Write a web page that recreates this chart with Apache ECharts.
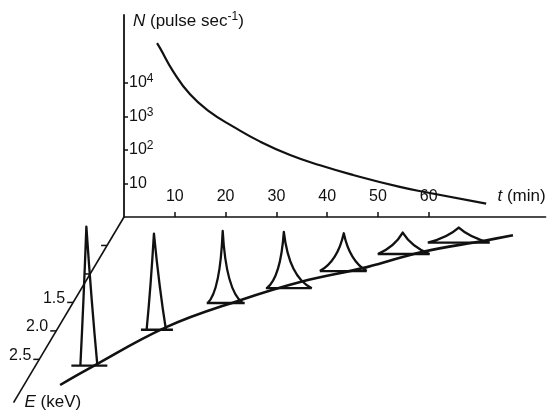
<!DOCTYPE html>
<html>
<head>
<meta charset="utf-8">
<title>Pulse rate and spectra</title>
<script src="https://cdn.jsdelivr.net/npm/echarts@6.0.0/dist/echarts.min.js"></script>
<style>
  html, body { margin: 0; padding: 0; background: #fff; }
  #chart { width: 549px; height: 413px; }
</style>
</head>
<body>
<div id="chart"></div>
<script>
  // decay of the pulse rate, upper panel
  const decayT = [6.5, 7.1, 9.7, 13.0, 16.9, 21.5, 26.8, 32.7, 38.6, 45.1, 54.3, 60.2, 71.3]
  const decayN = [155000, 110000, 22000, 4600, 1380, 500, 178, 71, 35, 18, 7.9, 5.2, 2.5]

  const tTicks = [10, 20, 30, 40, 50, 60]
  const nTicks = [10, 100, 1000, 10000]

  const eTicks = [0.5, 1.0, 1.5, 2.0, 2.5]
  const eTickLabels = ['', '', '1.5', '2.0', '2.5']
  const eAxisExtent = [0, 3.26]

  // where the peak sits in energy as time goes on
  const ridgeT = [7.1, 10.6, 21.3, 32.6, 42.3, 53.7, 62.9, 73.5, 78.7]
  const ridgeE = [2.95, 2.68, 1.93, 1.46, 1.14, 0.88, 0.61, 0.42, 0.32]

  // spectra: time (min), peak energy (keV), height (decades), foot / base half widths (min), tail shape
  const peakT = [10.0, 19.1, 29.5, 39.8, 49.6, 59.2, 68.9]
  const peakE = [2.61, 1.98, 1.51, 1.25, 0.95, 0.65, 0.45]
  const peakH = [4.15, 2.87, 2.15, 1.68, 1.13, 0.64, 0.45]
  const footL = [1.18, 1.44, 2.95, 3.35, 4.72, 4.92, 6.10]
  const footR = [2.17, 2.36, 3.94, 5.51, 4.53, 5.31, 6.10]
  const baseL = [2.95, 2.56, 3.15, 3.54, 4.72, 4.92, 6.10]
  const baseR = [4.13, 3.74, 4.33, 5.51, 4.53, 5.31, 6.10]
  const peakTail = [0.46, 0.44, 0.17, 0.19, 0.26, 0.33, 0.35]

  // oblique E direction: one keV moves left (in min) and down (in decades)
  const E_DT = -6.67
  const E_DY = -1.70
  const proj = (t, e, h) => [t + E_DT * e, E_DY * e + h]

  const FONT = 'Liberation Sans'
  const INK = '#111'

  const chart = echarts.init(document.getElementById('chart'))

  function renderPeak(params, api) {
    const t = api.value(0), e = api.value(1), h = api.value(2)
    const px = (dt, dh) => api.coord(proj(t + dt, e, dh))
    const apex = px(0, h)
    const under = px(0, 0)
    const fl = px(-api.value(3), 0), fr = px(api.value(4), 0)
    const bl = px(-api.value(5), 0), br = px(api.value(6), 0)
    const c = api.value(7)
    const ctrl = f => [
      under[0] + c * (f[0] - under[0] + apex[0] - under[0]),
      under[1] + c * (f[1] - under[1] + apex[1] - under[1])
    ]
    const cl = ctrl(fl), cr = ctrl(fr)
    const d = 'M' + fl + ' Q' + cl + ' ' + apex + ' Q' + cr + ' ' + fr +
      ' M' + bl + ' L' + br
    return {
      type: 'path',
      shape: { pathData: d },
      style: { fill: 'none', stroke: INK, lineWidth: 2.3, lineJoin: 'round' }
    }
  }

  function renderETick(params, api) {
    const p = api.coord(proj(0, api.value(0), 0))
    return {
      type: 'group',
      children: [{
        type: 'line',
        shape: { x1: p[0] - 6, y1: p[1], x2: p[0], y2: p[1] },
        style: { stroke: INK, lineWidth: 1.5 }
      }, {
        type: 'text',
        x: p[0] - 8,
        y: p[1] + 4,
        style: {
          text: eTickLabels[params.dataIndex],
          fontFamily: FONT, fontSize: 16, fill: INK,
          align: 'right', verticalAlign: 'bottom'
        }
      }]
    }
  }

  chart.setOption({
    animation: false,
    backgroundColor: '#fff',
    grid: [
      { left: 124, right: 3.4, top: 15, bottom: 196 },
      { left: 0, right: 0, top: 0, bottom: 0 }
    ],
    xAxis: [{
      gridIndex: 0,
      type: 'value',
      min: 0,
      max: 83,
      name: '{i|t} (min)',
      nameLocation: 'end',
      nameGap: 0,
      nameTextStyle: {
        color: INK, fontFamily: FONT, fontSize: 17,
        align: 'right', verticalAlign: 'bottom', padding: [0, 0, 12, 0],
        rich: { i: { fontStyle: 'italic', fontFamily: FONT, fontSize: 17, color: INK } }
      },
      splitLine: { show: false },
      axisLine: { onZero: false, lineStyle: { color: INK, width: 1.6 } },
      axisTick: { inside: true, length: 5, customValues: tTicks, lineStyle: { color: INK, width: 1.5 } },
      axisLabel: {
        inside: true, margin: 12, customValues: tTicks,
        color: INK, fontFamily: FONT, fontSize: 16
      }
    }, {
      gridIndex: 1,
      type: 'value',
      min: -24.41,
      max: 83.66,
      show: false
    }],
    yAxis: [{
      gridIndex: 0,
      type: 'log',
      logBase: 10,
      min: 1,
      max: 1.0713e6,
      name: '{i|N} (pulse sec{s|-1})',
      nameLocation: 'end',
      nameGap: -6,
      nameTextStyle: {
        color: INK, fontFamily: FONT, fontSize: 17, lineHeight: 20,
        align: 'left', verticalAlign: 'middle', padding: [0, 0, 0, 9],
        rich: {
          i: { fontStyle: 'italic', fontFamily: FONT, fontSize: 17, lineHeight: 20, color: INK },
          s: { fontFamily: FONT, fontSize: 12, lineHeight: 12, verticalAlign: 'top', color: INK }
        }
      },
      splitLine: { show: false },
      axisLine: { onZero: false, lineStyle: { color: INK, width: 1.8 } },
      axisTick: { inside: true, length: 4, customValues: nTicks, lineStyle: { color: INK, width: 1.5 } },
      axisLabel: {
        inside: true, margin: 5, customValues: nTicks,
        formatter: v => {
          const p = Math.round(Math.log10(v))
          return p === 1 ? '{b|10}' : '{b|10}{s|' + p + '}'
        },
        rich: {
          b: { fontFamily: FONT, fontSize: 16, lineHeight: 20, color: INK },
          s: { fontFamily: FONT, fontSize: 12, lineHeight: 12, verticalAlign: 'top', color: INK }
        }
      }
    }, {
      gridIndex: 1,
      type: 'value',
      min: -5.851,
      max: 6.478,
      show: false
    }],
    series: [{
      name: 'N',
      type: 'line',
      xAxisIndex: 0,
      yAxisIndex: 0,
      smooth: 0.5,
      symbol: 'none',
      lineStyle: { color: INK, width: 2.2 },
      data: decayT.map((t, i) => [t, decayN[i]])
    }, {
      name: 'E axis',
      type: 'line',
      xAxisIndex: 1,
      yAxisIndex: 1,
      symbol: 'none',
      lineStyle: { color: INK, width: 1.6 },
      data: eAxisExtent.map(e => proj(0, e, 0))
    }, {
      name: 'E ticks',
      type: 'custom',
      xAxisIndex: 1,
      yAxisIndex: 1,
      renderItem: renderETick,
      data: eTicks.map(e => [e, 0])
    }, {
      name: 'E name',
      type: 'scatter',
      xAxisIndex: 1,
      yAxisIndex: 1,
      symbolSize: 0,
      itemStyle: { opacity: 1, color: INK },
      label: {
        show: true,
        position: 'right',
        distance: 11,
        formatter: '{i|E} (keV)',
        color: INK, fontFamily: FONT, fontSize: 17,
        rich: { i: { fontStyle: 'italic', fontFamily: FONT, fontSize: 17, color: INK } }
      },
      data: [proj(0, eAxisExtent[1], 0)]
    }, {
      name: 'peak energy',
      type: 'line',
      xAxisIndex: 1,
      yAxisIndex: 1,
      smooth: 0.4,
      symbol: 'none',
      lineStyle: { color: INK, width: 2.6 },
      data: ridgeT.map((t, i) => proj(t, ridgeE[i], 0))
    }, {
      name: 'spectra',
      type: 'custom',
      xAxisIndex: 1,
      yAxisIndex: 1,
      renderItem: renderPeak,
      data: peakT.map((t, i) => [t, peakE[i], peakH[i], footL[i], footR[i], baseL[i], baseR[i], peakTail[i]])
    }]
  })
</script>
</body>
</html>
